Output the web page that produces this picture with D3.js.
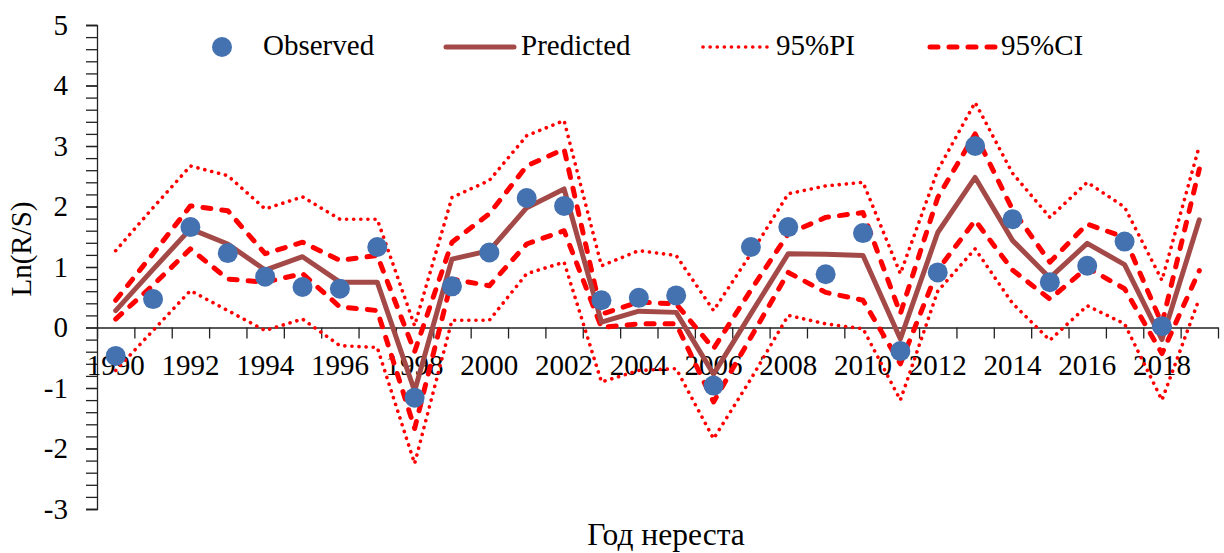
<!DOCTYPE html>
<html>
<head>
<meta charset="utf-8">
<script src="https://cdn.jsdelivr.net/npm/d3@7"></script>
<style>
  html, body { margin: 0; padding: 0; background: #fff; }
  svg { display: block; }
  text { font-family: "Liberation Serif", "Times New Roman", serif; fill: #000; }
</style>
</head>
<body>
<svg id="chart" width="1224" height="553"></svg>
<script>
// Spawning years
const years = [1990, 1991, 1992, 1993, 1994, 1995, 1996, 1997, 1998, 1999,
               2000, 2001, 2002, 2003, 2004, 2005, 2006, 2007, 2008, 2009,
               2010, 2011, 2012, 2013, 2014, 2015, 2016, 2017, 2018, 2019];

// Ln(R/S) observed (no observation for the last year)
const observed = [-0.47, 0.47, 1.66, 1.23, 0.84, 0.67, 0.64, 1.33, -1.16, 0.68,
                  1.24, 2.14, 2.01, 0.45, 0.49, 0.53, -0.96, 1.33, 1.66, 0.88,
                  1.56, -0.39, 0.91, 3.00, 1.79, 0.75, 1.02, 1.42, 0.02, null];

// Model prediction
const predicted = [0.28, 0.96, 1.63, 1.38, 0.95, 1.17, 0.75, 0.75, -1.05, 1.13,
                   1.27, 1.98, 2.29, 0.09, 0.27, 0.25, -0.77, 0.23, 1.22, 1.21,
                   1.19, -0.19, 1.57, 2.48, 1.44, 0.82, 1.39, 1.04, -0.20, 1.78];

// 95% confidence interval
const ciUpper = [0.45, 1.22, 2.01, 1.93, 1.22, 1.41, 1.11, 1.19, -0.40, 1.41,
                 1.88, 2.67, 2.95, 0.22, 0.42, 0.39, -0.35, 0.62, 1.55, 1.82,
                 1.90, 0.23, 2.15, 3.20, 1.95, 1.08, 1.71, 1.49, 0.06, 2.62];
const ciLower = [0.14, 0.70, 1.30, 0.80, 0.75, 0.89, 0.34, 0.28, -1.67, 0.80,
                 0.69, 1.38, 1.60, 0.00, 0.06, 0.06, -1.23, -0.16, 0.91, 0.58,
                 0.45, -0.60, 0.95, 1.77, 0.95, 0.47, 0.99, 0.64, -0.43, 0.94];

// 95% prediction interval
const piUpper = [1.27, 1.98, 2.67, 2.51, 1.96, 2.16, 1.79, 1.79, 0.03, 2.15,
                 2.43, 3.17, 3.42, 1.02, 1.27, 1.19, 0.28, 1.22, 2.21, 2.34,
                 2.40, 0.89, 2.60, 3.72, 2.55, 1.82, 2.40, 1.99, 0.78, 3.00];
const piLower = [-0.71, -0.05, 0.61, 0.28, -0.05, 0.14, -0.30, -0.33, -2.25, 0.12,
                 0.12, 0.89, 1.08, -0.90, -0.71, -0.68, -1.84, -0.85, 0.20, 0.06,
                 -0.02, -1.20, 0.60, 1.30, 0.40, -0.21, 0.36, 0.06, -1.20, 0.48];

const yMajorTicks = [-3, -2, -1, 0, 1, 2, 3, 4, 5];
const xLabelYears = [1990, 1992, 1994, 1996, 1998, 2000, 2002, 2004, 2006, 2008,
                     2010, 2012, 2014, 2016, 2018];

const legendItems = ["Observed", "Predicted", "95%PI", "95%CI"];
const xTitle = "Год нереста";
const yTitle = "Ln(R/S)";

// ---- layout ----
const plot = { left: 97, right: 1218, top: 25, bottom: 509 };
const FONT = 29;
const SERIF = '"Liberation Serif", "Times New Roman", serif';
const colDot = "#4472B0";
const colPred = "#A34A48";
const colBand = "#FF0000";

const svg = d3.select("#chart");

const x = d3.scaleBand().domain(years).range([plot.left, plot.right]).padding(0);
const cx = yr => x(yr) + x.bandwidth() / 2;
const y = d3.scaleLinear().domain([-3, 5]).range([plot.bottom, plot.top]);

// Y axis: minor ticks every 0.2, labels on whole numbers (plain hyphen for negatives)
const minorVals = d3.range(-15, 26).map(i => i / 5);
const yMinor = svg.append("g")
  .attr("transform", `translate(${plot.left},0)`)
  .call(d3.axisLeft(y).tickValues(minorVals).tickSize(11).tickFormat(""));
const yMajor = svg.append("g")
  .attr("transform", `translate(${plot.left},0)`)
  .call(d3.axisLeft(y).tickValues(yMajorTicks).tickSize(11).tickPadding(18)
    .tickFormat(d => String(d)));
[yMinor, yMajor].forEach(g => {
  g.attr("font-family", SERIF);
  g.selectAll("path.domain").attr("stroke", "#222").attr("stroke-width", 1.3);
  g.selectAll(".tick line").attr("stroke", "#222").attr("stroke-width", 1.3);
});
yMajor.selectAll(".tick text")
  .style("font-family", SERIF)
  .style("font-size", FONT + "px").attr("fill", "#000");
yMajor.select("path.domain").remove();

// X axis at zero: tick marks on category boundaries, labels every 2nd year
const xEdge = d3.scaleLinear().domain([0, years.length]).range([plot.left, plot.right]);
const xTicks = svg.append("g")
  .attr("transform", `translate(0,${y(0)})`)
  .call(d3.axisBottom(xEdge).tickValues(d3.range(0, years.length + 1)).tickSize(11).tickSizeOuter(0).tickFormat(""));
xTicks.selectAll("path.domain").attr("stroke", "#222").attr("stroke-width", 1.3);
xTicks.selectAll(".tick line").attr("stroke", "#222").attr("stroke-width", 1.3);

const xLabels = svg.append("g")
  .attr("transform", `translate(0,${y(0)})`)
  .attr("font-family", SERIF)
  .call(d3.axisBottom(x).tickValues(xLabelYears).tickSize(0).tickPadding(27));
xLabels.select("path.domain").remove();
xLabels.selectAll(".tick text")
  .style("font-family", SERIF)
  .style("font-size", FONT + "px").attr("fill", "#000");

// Axis titles
svg.append("text")
  .attr("x", 666).attr("y", 545)
  .attr("text-anchor", "middle")
  .style("font-size", "31.5px")
  .text(xTitle);
svg.append("text")
  .attr("transform", "translate(31,249) rotate(-90)")
  .attr("text-anchor", "middle")
  .style("font-size", FONT + "px")
  .text(yTitle);

// ---- series ----
const line = d3.line()
  .defined(d => d.v !== null)
  .x(d => cx(d.year))
  .y(d => y(d.v));
const series = arr => years.map((yr, i) => ({ year: yr, v: arr[i] }));

const dotted = { stroke: colBand, width: 3.6, dash: "0.1 7" };
const dashed = { stroke: colBand, width: 5, dash: "8 11" };

function drawLine(arr, st) {
  svg.append("path")
    .datum(series(arr))
    .attr("d", line)
    .attr("fill", "none")
    .attr("stroke", st.stroke)
    .attr("stroke-width", st.width)
    .attr("stroke-dasharray", st.dash || null)
    .attr("stroke-linecap", "round")
    .attr("stroke-linejoin", "round");
}

drawLine(piUpper, dotted);
drawLine(piLower, dotted);
drawLine(ciUpper, dashed);
drawLine(ciLower, dashed);
drawLine(predicted, { stroke: colPred, width: 5 });

svg.append("g").selectAll("circle")
  .data(series(observed).filter(d => d.v !== null))
  .join("circle")
  .attr("cx", d => cx(d.year))
  .attr("cy", d => y(d.v))
  .attr("r", 10)
  .attr("fill", colDot);

// ---- legend ----
const legY = 47;
const leg = svg.append("g");
leg.append("circle").attr("cx", 222).attr("cy", legY).attr("r", 10).attr("fill", colDot);
leg.append("line").attr("x1", 446).attr("x2", 514).attr("y1", legY).attr("y2", legY)
  .attr("stroke", colPred).attr("stroke-width", 5).attr("stroke-linecap", "round");
leg.append("line").attr("x1", 703).attr("x2", 768).attr("y1", legY).attr("y2", legY)
  .attr("stroke", colBand).attr("stroke-width", dotted.width)
  .attr("stroke-dasharray", dotted.dash).attr("stroke-linecap", "round");
leg.append("line").attr("x1", 930).attr("x2", 996).attr("y1", legY).attr("y2", legY)
  .attr("stroke", colBand).attr("stroke-width", dashed.width)
  .attr("stroke-dasharray", dashed.dash).attr("stroke-linecap", "round");
const legTextX = [263, 521, 776, 1001];
legendItems.forEach((t, i) => {
  leg.append("text").attr("x", legTextX[i]).attr("y", legY + 7.5)
    .style("font-size", FONT + "px").text(t);
});
</script>
</body>
</html>
